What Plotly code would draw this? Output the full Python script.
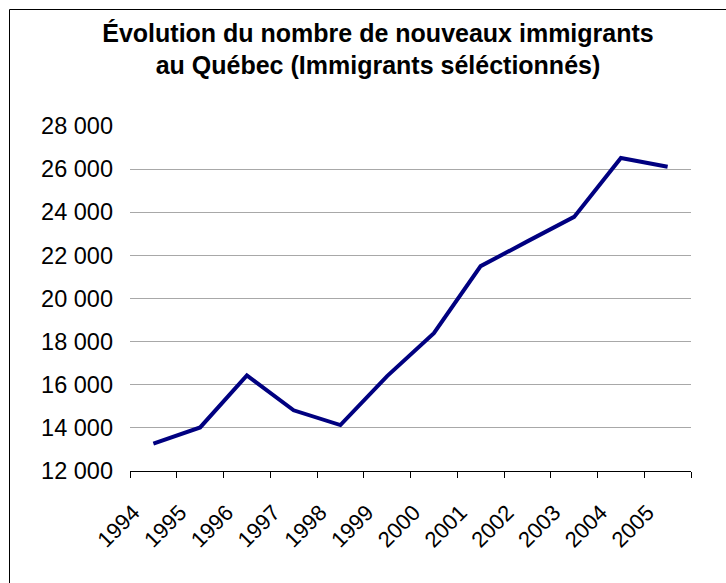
import plotly.graph_objects as go

years = ["1994", "1995", "1996", "1997", "1998", "1999", "2000", "2001", "2002", "2003", "2004", "2005"]
immigrants = [13270, 14020, 16430, 14815, 14130, 16400, 18390, 21500, 22650, 23785, 26520, 26110]
y_ticks = [12000, 14000, 16000, 18000, 20000, 22000, 24000, 26000, 28000]
title_lines = ["Évolution du nombre de nouveaux immigrants", "au Québec (Immigrants séléctionnés)"]

W, H = 726, 583
L, R, T, B = 130, 35, 126, 112

fig = go.Figure()
fig.add_trace(go.Scatter(
    x=years, y=immigrants, mode="lines",
    line=dict(color="#000080", width=4),
    hoverinfo="x+y", showlegend=False,
))

pw = W - L - R
ph = H - T - B
def px_x(p):
    return (p - L) / pw
def px_y(p):
    return (H - B - p) / ph

fig.update_layout(
    width=W, height=H,
    margin=dict(l=L, r=R, t=T, b=B, pad=0),
    paper_bgcolor="white", plot_bgcolor="white",
    separators=", ",
    font=dict(family="Liberation Sans, Arial, sans-serif", color="black"),
    title=dict(
        text="<br>".join(title_lines),
        x=378 / W, xanchor="center", xref="container",
        y=1 - 41.5 / H, yanchor="top", yref="container",
        font=dict(family="Liberation Sans, Arial, sans-serif", size=25, color="black", weight="bold"),
    ),
    xaxis=dict(
        type="category",
        range=[-0.5, len(years) - 0.5],
        showgrid=False,
        showline=True, linecolor="black", linewidth=1,
        ticks="outside", ticklen=6, tickcolor="black", tickwidth=1,
        tickson="boundaries",
        tickangle=-45,
        tickfont=dict(size=22, color="black"),
        ticklabelshift=-20,
        ticklabelstandoff=19,
        zeroline=False,
    ),
    yaxis=dict(
        range=[12000, 28000],
        tickvals=y_ticks,
        tickformat=",d",
        showgrid=True, gridcolor="#a8a8a8", gridwidth=1,
        showline=False, zeroline=False,
        ticks="",
        ticklabelstandoff=16,
        tickfont=dict(size=23.5, color="black"),
    ),
    shapes=[
        dict(type="line", xref="paper", yref="paper",
             x0=px_x(9.5), x1=px_x(760), y0=px_y(9.5), y1=px_y(9.5),
             line=dict(color="black", width=1)),
        dict(type="line", xref="paper", yref="paper",
             x0=px_x(9.5), x1=px_x(9.5), y0=px_y(9.5), y1=px_y(620),
             line=dict(color="black", width=1)),
    ],
)

fig.write_html("out.html", config={"displayModeBar": False},
               post_script="document.body.style.margin='0';")
